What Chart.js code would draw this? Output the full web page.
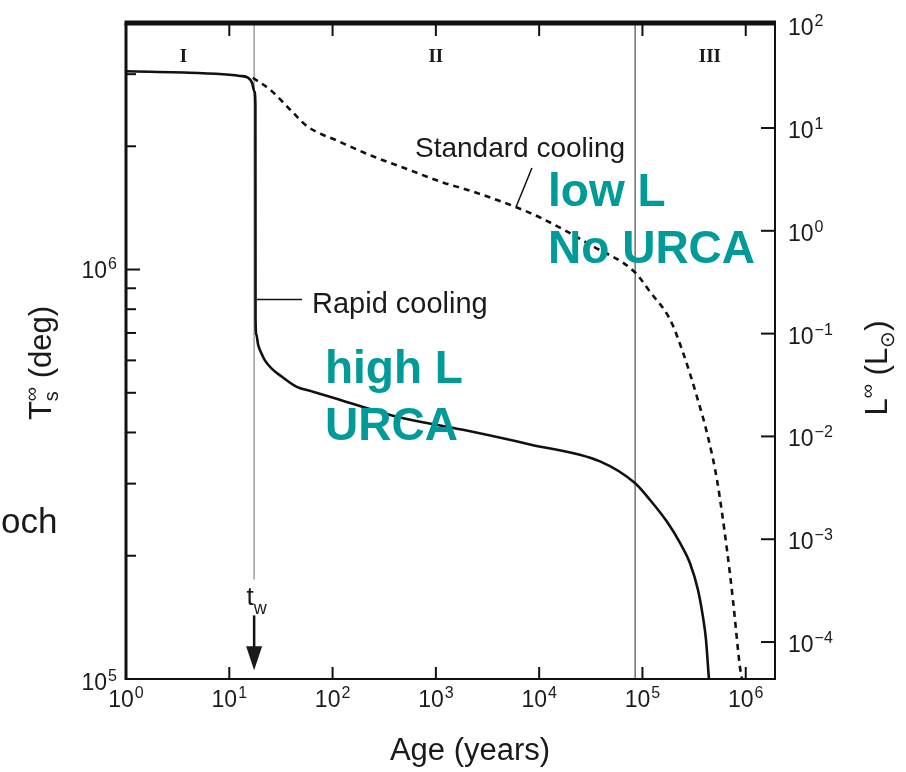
<!DOCTYPE html>
<html>
<head>
<meta charset="utf-8">
<title>Neutron star cooling</title>
<script src="https://cdn.jsdelivr.net/npm/chart.js@4.4.1/dist/chart.umd.min.js"></script>
<style>
  html, body { margin: 0; padding: 0; background: #fff; }
  #wrap { width: 906px; height: 772px; }
</style>
</head>
<body>
<div id="wrap"><canvas id="graficoArrefecimento" width="906" height="772"></canvas></div>
<script>
// values (age in years, surface temperature in K)
const ageRapid = [1, 5, 10, 12.7, 15.2, 16.6, 17.5, 17.9, 17.95, 18.3, 19.0, 20.3, 22.2, 25.9, 32.4, 45, 63, 94, 420, 1830, 8150, 38800, 84500, 118000, 173000, 231000, 288000, 345000, 385000, 412000, 440000];
const tempRapid = [3.05e6, 3.02e6, 2.99e6, 2.97e6, 2.94e6, 2.86e6, 2.72e6, 2.53e6, 7.55e5, 6.93e5, 6.56e5, 6.27e5, 5.99e5, 5.72e5, 5.47e5, 5.17e5, 5.04e5, 4.89e5, 4.37e5, 4.06e5, 3.74e5, 3.40e5, 3.01e5, 2.74e5, 2.42e5, 2.15e5, 1.92e5, 1.65e5, 1.42e5, 1.25e5, 1.0e5];

const ageStandard = [16.9, 24.8, 38.7, 56.5, 118, 246, 525, 1100, 2290, 5580, 10200, 33100, 84500, 118000, 185000, 247000, 337000, 430000, 526000, 658000, 752000, 879000, 920000];
const tempStandard = [2.94e6, 2.75e6, 2.46e6, 2.24e6, 2.05e6, 1.89e6, 1.76e6, 1.64e6, 1.55e6, 1.43e6, 1.34e6, 1.14e6, 9.85e5, 8.83e5, 7.55e5, 6.27e5, 4.89e5, 3.91e5, 3.07e5, 2.07e5, 1.56e5, 1.07e5, 1.0e5];

// tick labels
const ageTicks = [1, 10, 100, 1e3, 1e4, 1e5, 1e6];
const tempTicks = [1e5, 2e5, 3e5, 4e5, 5e5, 6e5, 7e5, 8e5, 9e5, 1e6, 2e6, 3e6];
const tempLabelled = [1e5, 1e6];
const lumTicks = [1e-4, 1e-3, 1e-2, 1e-1, 1, 10, 100];

// epoch boundaries (t_w and end of epoch II)
const epochBounds = [17.4, 85000];

const FONT = '"Liberation Sans", Arial, Helvetica, sans-serif';
const INK = '#1a1a1a';
const TEAL = '#009a98';

// "10" with a raised exponent, centred vertically on py
function drawPow(ctx, v, px, py, align) {
    const e = String(Math.round(Math.log10(v))).replace('-', '\u2212');
    ctx.font = '23px ' + FONT;
    const wb = ctx.measureText('10').width;
    ctx.font = '16px ' + FONT;
    const we = ctx.measureText(e).width;
    const w = wb + we + 1;
    let left = px;
    if (align === 'center') left = px - w / 2;
    if (align === 'right') left = px - w;
    ctx.textAlign = 'left';
    ctx.textBaseline = 'alphabetic';
    ctx.font = '23px ' + FONT;
    ctx.fillText('10', left, py + 8);
    ctx.font = '16px ' + FONT;
    ctx.fillText(e, left + wb + 1, py - 1);
}

// text made of pieces with sub/superscripts; pieces with stack:true share x with the next one
function drawRich(ctx, parts, cx, cy, angle) {
    ctx.save();
    ctx.translate(cx, cy);
    ctx.rotate(angle);
    ctx.textAlign = 'left';
    ctx.textBaseline = 'alphabetic';
    let total = 0, held = 0;
    const laid = parts.map(p => {
        ctx.font = p.size + 'px ' + FONT;
        const w = ctx.measureText(p.text).width;
        const item = { p: p, x: total };
        if (p.stack) {
            held = Math.max(held, w);
        } else {
            total += Math.max(held, w);
            held = 0;
        }
        return item;
    });
    const base = parts[0].size * 0.36;
    ctx.fillStyle = INK;
    laid.forEach(it => {
        ctx.font = it.p.size + 'px ' + FONT;
        ctx.fillText(it.p.text, it.x - total / 2, base + (it.p.dy || 0));
    });
    ctx.restore();
}

const extras = {
    id: 'extras',
    beforeDatasetsDraw(chart) {
        const { ctx, chartArea: a, scales: { x, y } } = chart;
        ctx.save();
        ctx.lineWidth = 1.5;
        ctx.strokeStyle = '#a0a0a0';
        const xw = x.getPixelForValue(epochBounds[0]);
        ctx.beginPath();
        ctx.moveTo(xw, a.top);
        ctx.lineTo(xw, y.getPixelForValue(1.75e5));
        ctx.stroke();
        ctx.strokeStyle = '#707070';
        const x3 = x.getPixelForValue(epochBounds[1]);
        ctx.beginPath();
        ctx.moveTo(x3, a.top);
        ctx.lineTo(x3, a.bottom);
        ctx.stroke();
        ctx.restore();
    },
    afterDraw(chart) {
        const { ctx, chartArea: a, scales: { x, y, y2 } } = chart;
        const X = v => x.getPixelForValue(v);
        const Y = v => y.getPixelForValue(v);
        ctx.save();
        ctx.strokeStyle = '#111';
        ctx.fillStyle = INK;
        ctx.lineCap = 'butt';

        // frame
        ctx.lineWidth = 5;
        ctx.beginPath(); ctx.moveTo(a.left - 1.5, a.top); ctx.lineTo(a.right + 1, a.top); ctx.stroke();
        ctx.lineWidth = 3;
        ctx.beginPath(); ctx.moveTo(a.left, a.top); ctx.lineTo(a.left, a.bottom + 1); ctx.stroke();
        ctx.lineWidth = 2;
        ctx.beginPath(); ctx.moveTo(a.right, a.top); ctx.lineTo(a.right, a.bottom + 1); ctx.stroke();
        ctx.beginPath(); ctx.moveTo(a.left, a.bottom); ctx.lineTo(a.right + 1, a.bottom); ctx.stroke();

        // inward tick marks and their labels
        ctx.lineWidth = 2;
        x.ticks.forEach(t => {
            const px = X(t.value);
            drawPow(ctx, t.value, px, a.bottom + 20, 'center');
            if (px <= a.left + 2) return;
            ctx.beginPath(); ctx.moveTo(px, a.bottom); ctx.lineTo(px, a.bottom - 12); ctx.stroke();
            ctx.beginPath(); ctx.moveTo(px, a.top); ctx.lineTo(px, a.top + 13); ctx.stroke();
        });
        y.ticks.forEach(t => {
            const py = Y(t.value);
            const major = tempLabelled.includes(t.value);
            if (major) drawPow(ctx, t.value, a.left - 9, py + (py >= a.bottom - 2 ? 3 : 0), 'right');
            if (py >= a.bottom - 2) return;
            ctx.beginPath(); ctx.moveTo(a.left, py); ctx.lineTo(a.left + (major ? 14 : 10), py); ctx.stroke();
        });
        y2.ticks.forEach(t => {
            const py = y2.getPixelForValue(t.value);
            drawPow(ctx, t.value, a.right + 13, py + 2, 'left');
            if (py <= a.top + 3) return;
            ctx.beginPath(); ctx.moveTo(a.right, py); ctx.lineTo(a.right - 14, py); ctx.stroke();
        });

        // epoch numerals
        ctx.textAlign = 'center';
        ctx.textBaseline = 'alphabetic';
        ctx.font = 'bold 19px "Liberation Serif", "Times New Roman", serif';
        ctx.fillText('I', X(3.6), Y(3.21e6));
        ctx.fillText('II', X(1000), Y(3.21e6));
        ctx.fillText('III', X(4.5e5), Y(3.21e6));

        // curve labels and pointers
        ctx.textAlign = 'left';
        ctx.font = '28px ' + FONT;
        ctx.fillText('Standard cooling', X(628), Y(1.88e6));
        ctx.font = '29px ' + FONT;
        ctx.fillText('Rapid cooling', X(63.2), Y(7.85e5));
        ctx.lineWidth = 1.5;
        ctx.beginPath(); ctx.moveTo(X(8510), Y(1.77e6)); ctx.lineTo(X(5960), Y(1.42e6)); ctx.stroke();
        ctx.beginPath(); ctx.moveTo(X(18.5), Y(8.45e5)); ctx.lineTo(X(50.6), Y(8.45e5)); ctx.stroke();

        // t_w marker
        ctx.font = '26px ' + FONT;
        const tx = X(epochBounds[0]);
        const tw = ctx.measureText('t').width;
        ctx.fillText('t', tx - tw / 2 - 4, Y(1.52e5));
        ctx.font = '18px ' + FONT;
        ctx.fillText('w', tx - tw / 2 - 4 + tw, Y(1.52e5) + 9);
        ctx.lineWidth = 2.5;
        const tip = Y(1.05e5);
        ctx.beginPath(); ctx.moveTo(tx, Y(1.43e5)); ctx.lineTo(tx, tip - 18); ctx.stroke();
        ctx.beginPath();
        ctx.moveTo(tx, tip); ctx.lineTo(tx - 8, tip - 24); ctx.lineTo(tx + 8, tip - 24);
        ctx.closePath();
        ctx.fill();

        // overlay notes
        ctx.fillStyle = TEAL;
        ctx.font = 'bold 46px ' + FONT;
        ctx.fillText('high L', X(84.4), Y(5.29e5));
        ctx.fillText('URCA', X(84.4), Y(3.84e5));
        ctx.fillText('low L', X(1.22e4), Y(1.43e6));
        ctx.fillText('No URCA', X(1.22e4), Y(1.035e6));

        // fragment of slide text at left edge
        ctx.fillStyle = INK;
        ctx.font = '35px ' + FONT;
        ctx.fillText('och', 1, 533);

        // axis titles
        ctx.textAlign = 'center';
        ctx.font = '31px ' + FONT;
        ctx.fillText('Age (years)', 470, 760);
        drawRich(ctx, [
            { text: 'T', size: 31 },
            { text: '∞', size: 20, dy: -13, stack: true },
            { text: 's', size: 20, dy: 7 },
            { text: ' (deg)', size: 31 }
        ], 40, 363, -Math.PI / 2);
        drawRich(ctx, [
            { text: 'L', size: 31 },
            { text: '∞', size: 20, dy: -13 },
            { text: ' (L', size: 31 },
            { text: '⊙', size: 20, dy: 7 },
            { text: ')', size: 31 }
        ], 876, 368, -Math.PI / 2);
        ctx.restore();
    }
};

new Chart(document.getElementById('graficoArrefecimento'), {
    type: 'line',
    data: {
        datasets: [{
            label: 'Rapid cooling',
            data: ageRapid.map((a, i) => ({ x: a, y: tempRapid[i] })),
            borderColor: '#111',
            borderWidth: 2.6,
            pointRadius: 0,
            cubicInterpolationMode: 'monotone',
            yAxisID: 'y'
        }, {
            label: 'Standard cooling',
            data: ageStandard.map((a, i) => ({ x: a, y: tempStandard[i] })),
            borderColor: '#111',
            borderWidth: 2.6,
            borderDash: [6, 5],
            pointRadius: 0,
            cubicInterpolationMode: 'monotone',
            yAxisID: 'y'
        }]
    },
    options: {
        responsive: false,
        animation: false,
        layout: { padding: { top: 23, left: 0, right: 0, bottom: 0 } },
        plugins: {
            legend: { display: false },
            tooltip: { enabled: false }
        },
        scales: {
            x: {
                type: 'logarithmic',
                position: 'bottom',
                min: 1,
                max: 1.92e6,
                afterBuildTicks: s => { s.ticks = ageTicks.map(v => ({ value: v })); },
                afterFit: s => { s.height = 93; },
                grid: { display: false, drawTicks: false },
                border: { display: false },
                ticks: { display: false }
            },
            y: {
                type: 'logarithmic',
                position: 'left',
                min: 1e5,
                max: 4.0e6,
                afterBuildTicks: s => { s.ticks = tempTicks.map(v => ({ value: v })); },
                afterFit: s => { s.width = 126; },
                grid: { display: false, drawTicks: false },
                border: { display: false },
                ticks: { display: false }
            },
            y2: {
                type: 'logarithmic',
                position: 'right',
                display: true,
                min: 4.37e-5,
                max: 105,
                afterBuildTicks: s => { s.ticks = lumTicks.map(v => ({ value: v })); },
                afterFit: s => { s.width = 131; },
                grid: { display: false, drawTicks: false },
                border: { display: false },
                ticks: { display: false }
            }
        }
    },
    plugins: [extras]
});
</script>
</body>
</html>
